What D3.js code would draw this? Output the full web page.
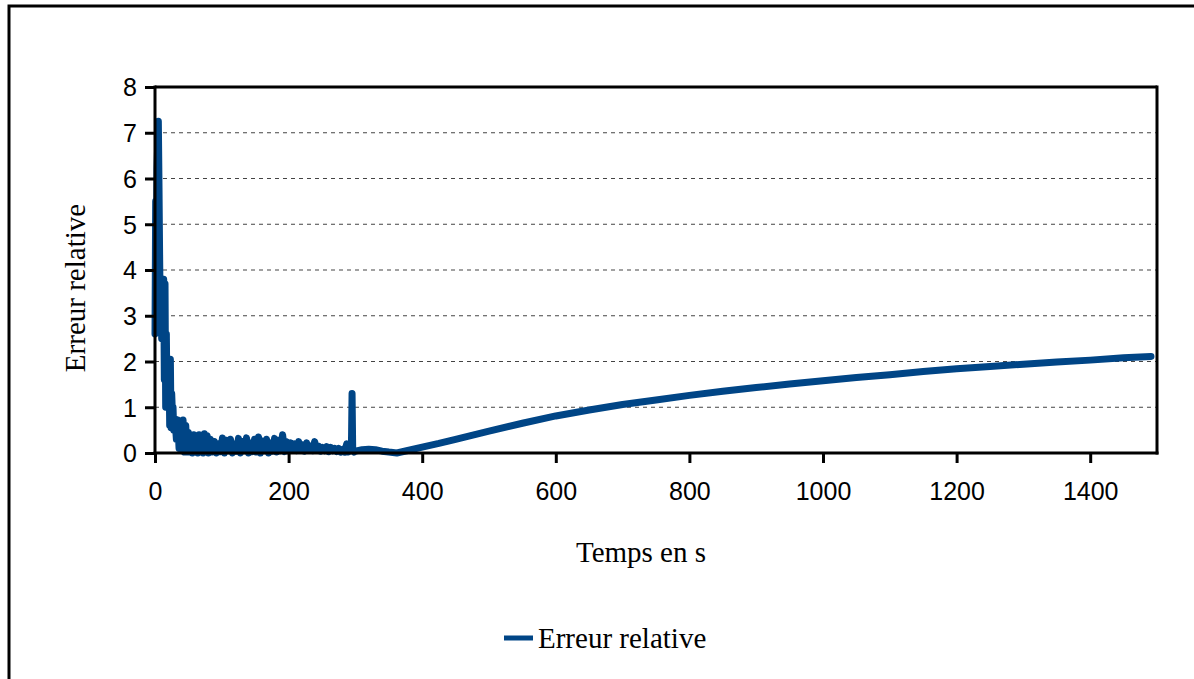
<!DOCTYPE html>
<html><head><meta charset="utf-8">
<script src="https://cdn.jsdelivr.net/npm/d3@7/dist/d3.min.js"></script>
<style>html,body{margin:0;padding:0;background:#fff;overflow:hidden}</style>
</head><body>
<svg id="c" width="1194" height="679"></svg>
<script>
// Data
const timeS = [0,1,2,3,5,6,7,8,9,10,11,12,13,14,15,16,17,18,19,20,21,22,23,24,25,26,27,28,30,32,34,36,38,40,42,44,46,48,
50,52,54,56,58,60,62,64,66,68,70,72,74,76,78,80,83,86,89,92,95,98,101,104,107,110,113,116,119,122,125,128,131,134,137,140,
143,146,149,152,155,158,161,164,167,170,173,176,179,182,185,188,191,194,197,200,203,206,209,212,215,218,221,224,227,230,
233,236,239,242,245,248,251,254,257,260,263,266,269,272,275,278,281,284,287,289,292,294,295,296,298,
300,310,320,330,340,350,362,380,400,425,450,500,550,600,650,700,750,800,850,900,950,1000,1050,1100,1150,1200,1250,1300,1350,1400,1450,1491];
const errRel = [2.6,5.5,4.3,6.2,7.25,5.8,4.2,2.8,3.6,2.5,3.8,2.6,3.8,1.6,3.7,1.0,2.6,1.1,2.0,1.0,1.9,0.6,2.05,0.55,1.3,0.9,1.0,0.5,0.75,0.3,0.72,0.1,0.7,0.05,0.72,0.02,0.6,0.02,
0.45,0.02,0.38,0.0,0.4,0.05,0.3,0.0,0.4,0.02,0.35,0.0,0.42,0.05,0.38,0.0,0.3,0.02,0.25,0.0,0.2,0.03,0.33,0.0,0.28,0.05,0.3,0.0,0.2,0.04,0.32,0.0,0.25,0.05,0.33,0.0,
0.22,0.03,0.3,0.02,0.35,0.0,0.26,0.05,0.3,0.0,0.22,0.04,0.32,0.02,0.28,0.05,0.4,0.03,0.25,0.05,0.22,0.08,0.2,0.05,0.25,0.08,0.18,0.04,0.22,0.06,
0.15,0.05,0.25,0.06,0.15,0.04,0.12,0.05,0.14,0.03,0.12,0.05,0.1,0.03,0.1,0.02,0.08,0.02,0.2,0.02,0.05,0.1,1.3,0.05,0.02,
0.04,0.07,0.08,0.07,0.04,0.02,0.0,0.06,0.13,0.21,0.3,0.48,0.65,0.81,0.94,1.06,1.16,1.26,1.35,1.43,1.51,1.58,1.65,1.71,1.78,1.84,1.89,1.94,1.99,2.03,2.08,2.11];
const xTicks = [0,200,400,600,800,1000,1200,1400];
const yTicks = [0,1,2,3,4,5,6,7,8];
const seriesName = "Erreur relative";
const xTitle = "Temps en s";
const yTitle = "Erreur relative";

const svg = d3.select("#c");
const L = 155, R = 1157, T = 87, B = 453;
const x = d3.scaleLinear().domain([0,1500]).range([L,R]);
const y = d3.scaleLinear().domain([0,8]).range([B,T]);
const color = "#004586";

// outer border
svg.append("rect").attr("x",9).attr("y",6).attr("width",1400).attr("height",900)
  .attr("fill","none").attr("stroke","#000").attr("stroke-width",3);

// gridlines
svg.append("g").selectAll("line").data(yTicks.filter(d=>d>0&&d<8)).join("line")
  .attr("x1",L).attr("x2",R).attr("y1",d=>y(d)).attr("y2",d=>y(d))
  .attr("stroke","#444").attr("stroke-width",1).attr("stroke-dasharray","4,4");

// data line
const pts = timeS.map((t,i)=>[t,errRel[i]]);
svg.append("path").datum(pts)
  .attr("d", d3.line().x(d=>x(d[0])).y(d=>y(d[1])))
  .attr("fill","none").attr("stroke",color).attr("stroke-width",7)
  .attr("stroke-linejoin","round").attr("stroke-linecap","round");

// frame top & right
svg.append("line").attr("x1",L).attr("x2",R).attr("y1",T).attr("y2",T).attr("stroke","#000").attr("stroke-width",3);
svg.append("line").attr("x1",R).attr("x2",R).attr("y1",T-1.5).attr("y2",B+1.5).attr("stroke","#000").attr("stroke-width",3);

// axes
const xa = svg.append("g").attr("transform",`translate(0,${B})`)
  .call(d3.axisBottom(x).tickValues(xTicks).tickSize(10).tickSizeOuter(0).tickPadding(19).tickFormat(d3.format("d")));
const ya = svg.append("g").attr("transform",`translate(${L},0)`)
  .call(d3.axisLeft(y).tickValues(yTicks).tickSize(10).tickSizeOuter(0).tickPadding(8).tickFormat(d3.format("d")));
[xa,ya].forEach(g=>{
  g.select(".domain").attr("stroke","#000").attr("stroke-width",3);
  g.selectAll(".tick line").attr("stroke","#000").attr("stroke-width",3);
  g.selectAll(".tick text").attr("fill","#000").style("font-family","'Liberation Sans', Arial, sans-serif").style("font-size","25px");
});
xa.select(".domain").attr("d",`M${L-1.5},0H${R+1.5}`);
ya.select(".domain").attr("d",`M0,${B+1.5}V${T-1.5}`);
ya.selectAll(".tick text").attr("dy","0.35em");

// titles
svg.append("text").attr("x",641).attr("y",562).attr("text-anchor","middle")
  .style("font-family","'Liberation Serif','Times New Roman',serif").style("font-size","29px").text(xTitle);
svg.append("text").attr("transform","translate(85,288) rotate(-90)").attr("text-anchor","middle")
  .style("font-family","'Liberation Serif','Times New Roman',serif").style("font-size","29px").text(yTitle);

// legend
const lg = svg.append("g");
lg.append("line").attr("x1",504).attr("x2",533).attr("y1",638).attr("y2",638).attr("stroke",color).attr("stroke-width",5);
lg.append("text").attr("x",538).attr("y",648)
  .style("font-family","'Liberation Serif','Times New Roman',serif").style("font-size","29px").text(seriesName);
</script>
</body></html>
